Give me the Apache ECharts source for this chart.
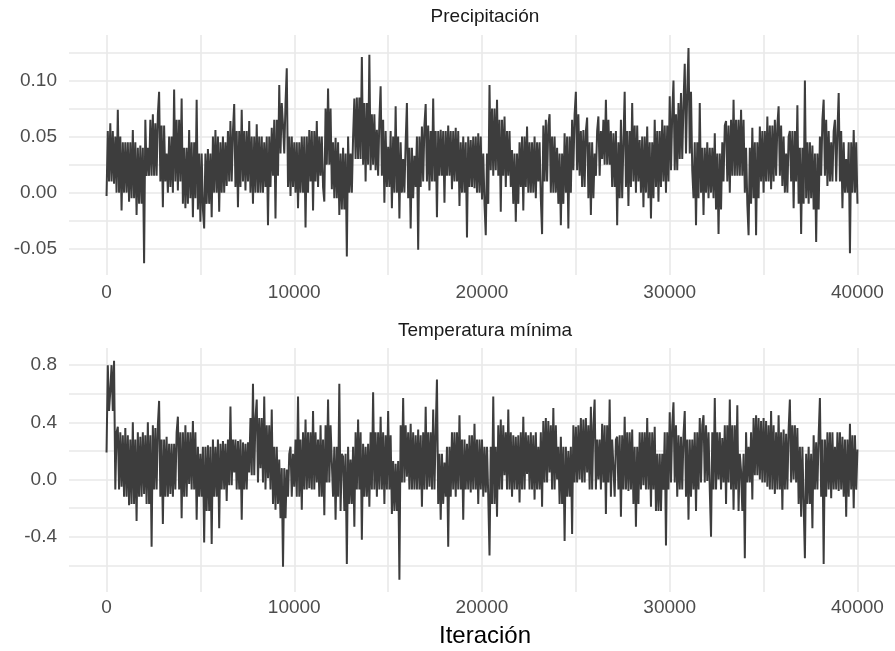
<!DOCTYPE html>
<html>
<head>
<meta charset="utf-8">
<script src="https://cdn.jsdelivr.net/npm/echarts@6/dist/echarts.min.js"></script>
<style>
html,body{margin:0;padding:0;background:#fff;}
#c{width:895px;height:651px;}
</style>
</head>
<body>
<div id="c"></div>
<script>
// ---- data ----
const iterStep = 200;   // iterations between the extreme readings below
const coreBlock = 400;  // iterations per reading of the dense core band
const panelTitles = ['Precipitación', 'Temperatura mínima'];
const xAxisTitle = 'Iteración';
const xTicks = [0, 5000, 10000, 15000, 20000, 25000, 30000, 35000, 40000];
const xLabels = [0, 10000, 20000, 30000, 40000];
const precipTicks = [-0.05, -0.025, 0, 0.025, 0.05, 0.075, 0.1, 0.125];
const precipLabels = [-0.05, 0, 0.05, 0.1];
const tminTicks = [-0.6, -0.4, -0.2, 0, 0.2, 0.4, 0.6, 0.8];
const tminLabels = [-0.4, 0, 0.4, 0.8];

// extreme values of the trace, one every 200 iterations
const precip = [
-0.003,0.062,0.008,0.074,-0.016,0.045,-0.008,0.056,-0.020,0.042,
-0.063,0.040,0.015,0.062,0.090,-0.013,0.035,0.005,0.092,0.002,
0.084,-0.014,0.056,-0.022,0.083,-0.026,-0.032,0.039,-0.022,0.056,
-0.017,0.050,0.006,0.064,0.079,-0.013,0.074,0.002,0.064,-0.010,
0.061,0.000,0.045,-0.029,0.058,-0.023,0.096,0.060,0.111,-0.003,
0.045,-0.014,0.050,-0.031,0.056,-0.016,0.064,0.015,-0.008,0.093,
0.003,0.049,-0.020,0.040,-0.057,0.035,0.084,0.030,0.121,0.010,
0.123,0.025,0.056,0.095,-0.009,0.041,-0.014,0.077,-0.023,0.030,
0.080,-0.032,0.033,-0.051,0.059,0.079,0.002,0.084,-0.022,0.056,
-0.009,0.060,0.003,0.058,-0.012,0.050,-0.040,0.047,0.004,0.053,
-0.006,-0.038,0.096,0.015,0.083,-0.017,0.068,0.015,0.038,-0.026,
0.045,-0.016,0.059,0.000,0.050,0.010,-0.037,0.065,0.070,0.000,
0.040,-0.029,0.053,-0.032,0.065,0.090,0.015,0.056,0.067,-0.020,
0.035,0.068,0.030,0.083,0.025,0.053,-0.029,0.065,0.090,-0.012,
0.080,0.000,0.047,-0.013,0.059,-0.023,0.065,-0.008,0.065,0.000,
0.086,0.100,0.020,0.089,0.115,0.129,0.020,-0.029,0.080,-0.020,
0.045,0.000,0.053,-0.037,0.045,0.064,0.000,0.083,0.015,0.074,
0.000,-0.038,0.058,-0.038,0.059,0.000,0.068,0.003,0.065,0.077,
0.006,0.035,0.055,-0.014,0.078,-0.037,0.100,-0.010,0.042,-0.044,
0.050,0.083,0.006,0.045,0.065,0.089,-0.014,0.030,-0.054,0.056,
-0.010
];
// lower / upper edge of the dense core of the trace, one per 400 iterations
const precipCoreLo = [
0.01,0.0,0.0,-0.005,-0.01,0.015,0.015,0.01,0.0,0.01,-0.01,-0.005,-0.015,-0.01,0.0,0.0,0.01,0.005,0.01,0.0,0.0,0.005,0.015,0.035,0.005,
0.0,0.0,0.01,0.005,0.025,-0.005,-0.015,0.0,0.03,0.025,0.02,0.015,0.005,0.0,0.0,-0.005,0.005,0.01,0.01,0.015,0.015,0.01,0.0,0.005,0.0,
-0.01,0.02,0.015,0.005,-0.01,0.005,0.0,-0.005,0.01,0.0,-0.01,0.0,0.02,0.005,-0.005,0.015,0.025,0.005,-0.005,0.005,0.01,0.0,-0.005,0.005,0.01,
0.02,0.03,0.035,-0.005,0.0,-0.005,-0.015,0.01,0.015,0.015,-0.01,-0.005,0.01,0.01,0.015,0.0,0.01,-0.01,-0.005,-0.015,0.015,0.01,0.01,0.0,0.0
];
const precipCoreHi = [
0.055,0.05,0.045,0.045,0.04,0.065,0.07,0.06,0.05,0.065,0.04,0.045,0.035,0.035,0.05,0.045,0.055,0.055,0.055,0.05,0.05,0.05,0.065,0.08,0.05,
0.045,0.05,0.055,0.05,0.075,0.045,0.035,0.05,0.085,0.08,0.07,0.065,0.055,0.05,0.045,0.04,0.05,0.06,0.055,0.055,0.055,0.055,0.045,0.05,0.05,
0.035,0.075,0.065,0.055,0.035,0.05,0.045,0.045,0.06,0.05,0.035,0.05,0.07,0.055,0.045,0.055,0.065,0.055,0.045,0.055,0.06,0.05,0.045,0.055,0.06,
0.07,0.08,0.09,0.045,0.04,0.04,0.035,0.06,0.065,0.065,0.04,0.045,0.055,0.06,0.06,0.05,0.055,0.04,0.045,0.035,0.065,0.055,0.055,0.045,0.045
];

const tmin = [
0.19,0.62,0.83,0.37,-0.05,0.36,-0.18,0.40,-0.29,0.30,
-0.10,0.40,-0.47,0.36,0.55,-0.31,0.30,-0.10,0.25,0.44,
-0.27,0.38,-0.03,0.41,-0.28,0.18,-0.44,0.24,-0.45,0.23,
-0.34,0.27,-0.15,0.51,0.05,0.27,-0.28,0.25,0.05,0.67,
0.56,0.08,0.58,0.01,0.49,-0.21,0.14,-0.61,0.07,0.23,
-0.05,0.58,-0.21,0.42,-0.06,0.48,-0.02,0.38,-0.25,0.56,
0.12,-0.28,0.67,0.16,-0.59,0.14,-0.33,0.42,-0.42,0.23,
-0.19,0.61,-0.12,0.44,-0.17,0.48,-0.24,0.11,-0.70,0.57,
0.02,0.39,-0.07,0.35,-0.19,0.51,-0.05,0.49,0.70,-0.28,
0.12,-0.47,0.33,-0.12,0.45,-0.28,0.25,-0.09,0.39,-0.17,
0.28,-0.09,-0.53,0.58,-0.26,0.42,0.03,0.49,-0.12,0.30,
-0.16,0.44,0.04,0.33,-0.14,0.23,-0.19,0.43,0.05,0.50,
0.00,0.30,-0.43,0.20,-0.38,0.37,0.00,0.42,0.05,0.51,
0.56,0.00,0.39,-0.24,0.56,0.09,0.30,-0.26,0.44,-0.08,
0.35,-0.33,0.33,-0.04,0.43,-0.19,0.37,-0.22,0.18,-0.46,
0.47,0.54,-0.12,0.30,0.48,-0.28,0.28,-0.22,0.43,0.45,
-0.01,-0.40,0.57,0.00,0.29,-0.17,0.56,-0.21,0.52,0.06,
-0.55,0.23,-0.14,0.45,0.00,0.43,-0.05,0.48,-0.10,0.45,
-0.21,0.32,0.56,0.00,0.36,-0.26,-0.55,0.23,-0.34,0.26,
0.57,-0.59,0.33,-0.13,0.23,-0.08,0.30,-0.26,0.39,-0.20,
0.21
];
const tminCoreLo = [
0.48,-0.07,-0.12,-0.17,-0.12,-0.17,-0.07,-0.12,-0.12,-0.07,-0.12,-0.07,-0.12,-0.22,-0.12,-0.07,-0.04,-0.07,-0.07,0.03,-0.02,-0.07,-0.17,-0.27,-0.12,
-0.12,-0.07,-0.07,-0.12,-0.02,-0.12,-0.22,-0.17,-0.07,-0.12,-0.07,-0.07,-0.07,-0.22,-0.02,-0.07,-0.07,-0.07,-0.07,-0.17,-0.12,-0.07,-0.07,-0.07,-0.07,
-0.12,-0.17,-0.07,-0.07,-0.07,-0.07,-0.07,-0.07,-0.02,-0.07,-0.17,-0.12,-0.02,-0.02,-0.07,-0.07,-0.02,-0.12,-0.07,-0.07,-0.17,-0.07,-0.07,-0.22,-0.07,
-0.02,-0.07,-0.12,-0.07,-0.02,-0.07,-0.07,-0.02,-0.07,-0.22,-0.02,0.03,-0.02,-0.07,-0.07,-0.07,-0.02,-0.17,-0.17,-0.07,-0.12,-0.07,-0.07,-0.12,-0.07
];
const tminCoreHi = [
0.8,0.33,0.31,0.28,0.33,0.31,0.38,0.28,0.25,0.33,0.33,0.33,0.23,0.23,0.28,0.25,0.28,0.28,0.26,0.43,0.43,0.38,0.23,0.08,0.18,
0.28,0.33,0.33,0.28,0.38,0.23,0.18,0.23,0.33,0.25,0.33,0.33,0.31,0.13,0.38,0.33,0.31,0.33,0.33,0.18,0.23,0.33,0.28,0.31,0.28,
0.23,0.23,0.38,0.33,0.31,0.33,0.31,0.33,0.41,0.38,0.23,0.23,0.38,0.43,0.38,0.28,0.38,0.28,0.31,0.33,0.23,0.33,0.33,0.18,0.33,
0.38,0.31,0.28,0.33,0.38,0.33,0.33,0.38,0.38,0.18,0.33,0.43,0.41,0.38,0.33,0.35,0.38,0.23,0.18,0.31,0.28,0.33,0.33,0.28,0.31
];

// ---- build the trace: each 200-iteration step visits its extreme and crosses the core band ----
function buildTrace(ext, coreLo, coreHi) {
  const out = [];
  const per = coreBlock / iterStep;
  for (let k = 0; k < ext.length; k++) {
    const x0 = k * iterStep;
    out.push([x0, ext[k]]);
    if (k === ext.length - 1) break;
    const b = Math.floor(k / per);
    const lo = coreLo[b], hi = coreHi[b];
    const first = ext[k] >= (lo + hi) / 2 ? lo : hi;
    const second = first === lo ? hi : lo;
    out.push([x0 + iterStep / 3, first]);
    out.push([x0 + 2 * iterStep / 3, second]);
  }
  return out;
}

const gridColor = '#e9e9e9';
const labelColor = '#4d4d4d';
const lineColor = '#3d3d3d';
const fontFam = '"Liberation Sans", Arial, Helvetica, sans-serif';

function xAxisFor(gridIndex, margin) {
  return {
    type: 'value', gridIndex: gridIndex, min: -2000, max: 42000,
    axisLine: {show: false},
    axisTick: {show: false, customValues: xTicks},
    axisLabel: {customValues: xLabels, color: labelColor, fontSize: 19, fontFamily: fontFam, margin: margin,
      formatter: v => String(v)},
    splitLine: {show: true, lineStyle: {color: gridColor, width: 1.6}}
  };
}
function yAxisFor(gridIndex, min, max, ticks, labels, dec) {
  return {
    type: 'value', gridIndex: gridIndex, min: min, max: max,
    axisLine: {show: false},
    axisTick: {show: false, customValues: ticks},
    axisLabel: {customValues: labels, color: labelColor, fontSize: 19, fontFamily: fontFam, margin: 12,
      formatter: v => v.toFixed(dec)},
    splitLine: {show: true, lineStyle: {color: gridColor, width: 1.6}}
  };
}

const chart = echarts.init(document.getElementById('c'), null, {renderer: 'canvas'});
chart.setOption({
  animation: false,
  backgroundColor: '#ffffff',
  title: [
    {text: panelTitles[0], left: 485, top: 7, textAlign: 'center', padding: 0,
      textStyle: {fontSize: 19, fontWeight: 'normal', color: '#1a1a1a', fontFamily: fontFam}},
    {text: panelTitles[1], left: 485, top: 321, textAlign: 'center', padding: 0,
      textStyle: {fontSize: 19, fontWeight: 'normal', color: '#1a1a1a', fontFamily: fontFam}},
    {text: xAxisTitle, left: 485, top: 624, textAlign: 'center', padding: 0,
      textStyle: {fontSize: 24, fontWeight: 'normal', color: '#000000', fontFamily: fontFam}}
  ],
  grid: [
    {left: 69, top: 35, width: 832, height: 240},
    {left: 69, top: 348, width: 832, height: 244}
  ],
  xAxis: [xAxisFor(0, 8), xAxisFor(1, 6)],
  yAxis: [
    yAxisFor(0, -0.0735, 0.1407, precipTicks, precipLabels, 2),
    yAxisFor(1, -0.786, 0.92, tminTicks, tminLabels, 1)
  ],
  series: [
    {type: 'line', xAxisIndex: 0, yAxisIndex: 0, data: buildTrace(precip, precipCoreLo, precipCoreHi),
      showSymbol: false, sampling: null, lineStyle: {color: lineColor, width: 2}},
    {type: 'line', xAxisIndex: 1, yAxisIndex: 1, data: buildTrace(tmin, tminCoreLo, tminCoreHi),
      showSymbol: false, sampling: null, lineStyle: {color: lineColor, width: 2}}
  ]
});
</script>
</body>
</html>
